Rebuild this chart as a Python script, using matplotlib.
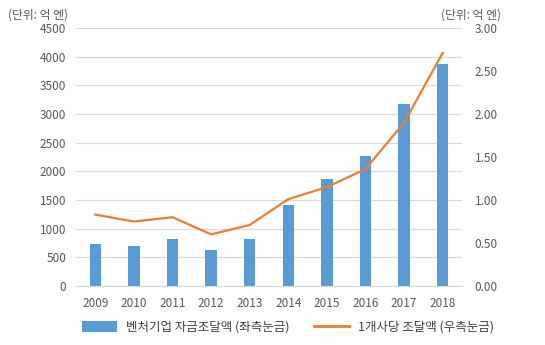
import numpy as np
import matplotlib
matplotlib.use("Agg")
import matplotlib.pyplot as plt
from matplotlib.patches import Patch
from matplotlib.lines import Line2D

plt.rcParams['font.family'] = ['Noto Sans CJK KR', 'DejaVu Sans']

# data
years = ['2009', '2010', '2011', '2012', '2013', '2014', '2015', '2016', '2017', '2018']
funding = [730, 700, 815, 630, 815, 1415, 1860, 2260, 3170, 3870]      # left axis
per_company = [0.83, 0.75, 0.80, 0.60, 0.71, 1.01, 1.15, 1.36, 1.90, 2.71]  # right axis
bar_label = '벤처기업 자금조달액 (좌측눈금)'
line_label = '1개사당 조달액 (우측눈금)'
unit_text = '(단위: 억 엔)'

BLUE = '#5B9BD5'
ORANGE = '#ED7D31'
GRID = '#D9D9D9'
TXT = '#595959'

fig = plt.figure(figsize=(5.45, 3.45), dpi=100)
ax = fig.add_axes([76/545, 59/345, 386/545, 258/345])
ax2 = ax.twinx()

x = np.arange(len(years))
ax.bar(x, funding, width=0.3, color=BLUE, zorder=2)
ax2.plot(x, per_company, color=ORANGE, lw=1.6, zorder=3)

ax.set_xlim(-0.5, len(years) - 0.5)
ax.set_ylim(0, 4500)
ax.set_yticks(np.arange(0, 4501, 500))
ax2.set_ylim(0, 3)
ax2.set_yticks(np.arange(0, 3.01, 0.5))
ax2.set_yticklabels([f'{v:.2f}' for v in np.arange(0, 3.01, 0.5)])
ax.set_xticks(x)
ax.set_xticklabels(years)

ax.grid(axis='y', color=GRID, lw=0.9, zorder=0)
ax.set_axisbelow(True)
for a in (ax, ax2):
    for s in a.spines.values():
        s.set_visible(False)
ax.spines['bottom'].set_visible(True)
ax.spines['bottom'].set_color(GRID)

ax.tick_params(axis='both', length=0, colors=TXT, labelsize=8.5)
ax.tick_params(axis='y', pad=7)
ax.tick_params(axis='x', pad=8)
ax2.tick_params(axis='y', length=0, colors=TXT, labelsize=8.5, pad=9)

fig.text(8/545, 1 - 15/345, unit_text, fontsize=8.5, color=TXT, va='center', ha='left')
fig.text(501/545, 1 - 15/345, unit_text, fontsize=8.5, color=TXT, va='center', ha='right')

handles = [Patch(facecolor=BLUE, edgecolor='none'),
           Line2D([0], [0], color=ORANGE, lw=2)]
fig.legend(handles, [bar_label, line_label], loc='center', ncol=2,
           bbox_to_anchor=(288/545, 1 - 327/345), frameon=False,
           fontsize=9, labelcolor='#404040', handlelength=2.8,
           handleheight=1.0, columnspacing=2.0, handletextpad=0.7)

fig.savefig('out.png', dpi=100)
